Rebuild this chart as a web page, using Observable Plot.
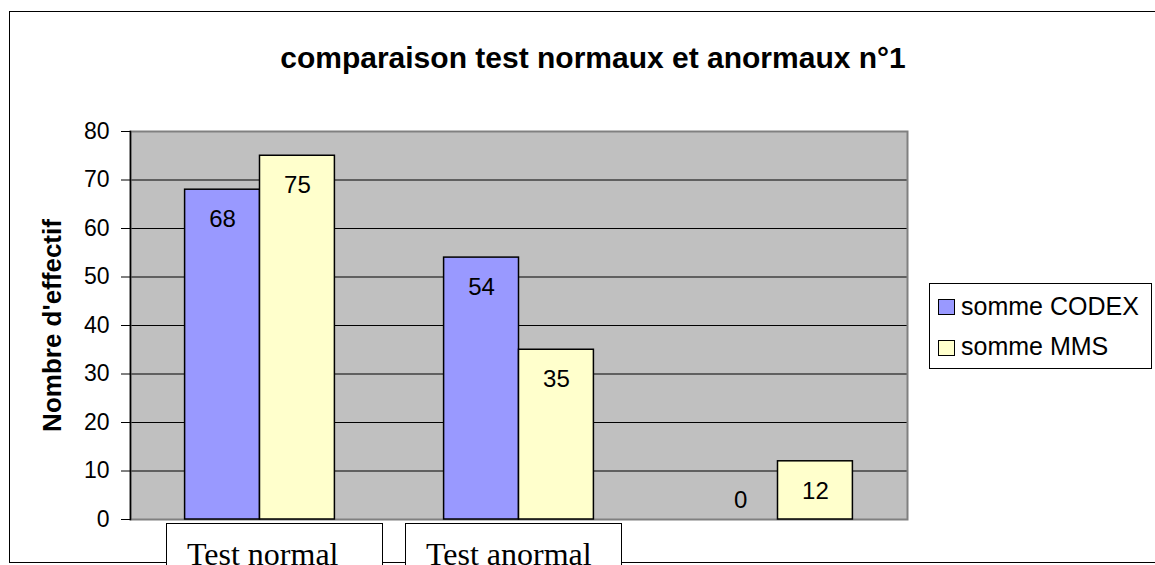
<!DOCTYPE html>
<html>
<head>
<meta charset="utf-8">
<script src="https://cdn.jsdelivr.net/npm/d3@7"></script>
<script src="https://cdn.jsdelivr.net/npm/@observablehq/plot@0.6"></script>
<style>
  html, body { margin: 0; padding: 0; background: #fff; }
  #wrap { position: relative; width: 1155px; height: 565px; overflow: hidden; font-family: "Liberation Sans", Arial, sans-serif; }
  #outer { position: absolute; left: 9px; top: 11px; width: 1200px; height: 552px; border: 1.5px solid #000; box-sizing: border-box; }
  #chart { position: absolute; left: 0; top: 0; }
  #title { position: absolute; left: 0; top: 43px; width: 1186px; text-align: center; font-weight: bold; font-size: 30px; line-height: 1; color: #000; }
  #legend { position: absolute; left: 929px; top: 283px; width: 223px; height: 86px; border: 1px solid #000; background: #fff; box-sizing: border-box; }
  .sw { position: absolute; width: 17px; height: 16px; border: 1.5px solid #000; box-sizing: border-box; }
  .lt { position: absolute; font-size: 25px; line-height: 1; white-space: nowrap; color: #000; }
  .catbox { position: absolute; top: 523px; height: 70px; border: 1.5px solid #000; background: #fff; box-sizing: border-box; font-family: "Liberation Serif", "Times New Roman", serif; font-size: 32px; line-height: 1; color: #000; white-space: nowrap; }
  svg g[aria-label="y-axis label"] { font-weight: bold; font-size: 26px; }
</style>
</head>
<body>
<div id="wrap">
  <div id="outer"></div>
  <div id="chart"></div>
  <div id="title"></div>
  <div id="legend"></div>
</div>
<script>
// ---- data ----
const categories = ["Test normal", "Test anormal", ""];
const series = ["somme CODEX", "somme MMS"];
const codexValues = [68, 54, 0];
const mmsValues = [75, 35, 12];
const seriesColors = ["#9999ff", "#ffffcc"];
const yTicks = [0, 10, 20, 30, 40, 50, 60, 70, 80];
const chartTitle = "comparaison test normaux et anormaux n°1";
const yLabel = "Nombre d'effectif";

const data = categories.flatMap((c, i) => [
  {cat: c, s: series[0], v: codexValues[i]},
  {cat: c, s: series[1], v: mmsValues[i]}
]);

const plot = Plot.plot({
  width: 1155,
  height: 565,
  marginLeft: 129,
  marginRight: 248,
  marginTop: 131,
  marginBottom: 46,
  style: {fontFamily: "'Liberation Sans', Arial, sans-serif", background: "transparent", overflow: "visible", color: "#000"},
  fx: {domain: categories, padding: 0, axis: null},
  x: {domain: series, paddingInner: 0, paddingOuter: 0.729, round: false, axis: null},
  y: {domain: [0, 80]},
  color: {domain: series, range: seriesColors},
  marks: [
    Plot.frame({fill: "#c0c0c0", facet: "super"}),
    Plot.ruleY(yTicks, {stroke: "#000", strokeWidth: 1}),
    Plot.frame({stroke: "#808080", strokeWidth: 2, facet: "super"}),
    Plot.frame({anchor: "left", stroke: "#000", strokeWidth: 1.5, facet: "super"}),
    Plot.axisY({ticks: yTicks, tickSize: 9, tickPadding: 12, fontSize: 23, label: yLabel, labelAnchor: "center", labelArrow: "none", labelOffset: 88}),
    Plot.barY(data.filter(d => d.v > 0), {fx: "cat", x: "s", y: "v", fill: "s", stroke: "#000", strokeWidth: 1.5}),
    Plot.text(data.filter(d => d.v > 0), {fx: "cat", x: "s", y: "v", text: d => String(d.v), dy: 30, fontSize: 24, fill: "#000"}),
    Plot.text(data.filter(d => d.v === 0), {fx: "cat", x: "s", y: "v", text: d => String(d.v), dy: -19, fontSize: 24, fill: "#000"})
  ]
});
document.getElementById("chart").appendChild(plot);

document.getElementById("title").textContent = chartTitle;

// legend
const legend = document.getElementById("legend");
series.forEach((s, i) => {
  const sw = document.createElement("div");
  sw.className = "sw";
  sw.style.left = "8px";
  sw.style.top = (15 + i * 41) + "px";
  sw.style.background = seriesColors[i];
  legend.appendChild(sw);
  const t = document.createElement("div");
  t.className = "lt";
  t.style.left = "31px";
  t.style.top = (10 + i * 40) + "px";
  t.textContent = s;
  legend.appendChild(t);
});

// category text boxes
const wrap = document.getElementById("wrap");
const boxLefts = [166, 405];
categories.filter(c => c !== "").forEach((c, i) => {
  const b = document.createElement("div");
  b.className = "catbox";
  b.style.left = boxLefts[i] + "px";
  b.style.width = "217px";
  b.style.paddingLeft = "20px";
  b.style.paddingTop = "14px";
  b.textContent = c;
  wrap.appendChild(b);
});
</script>
</body>
</html>
